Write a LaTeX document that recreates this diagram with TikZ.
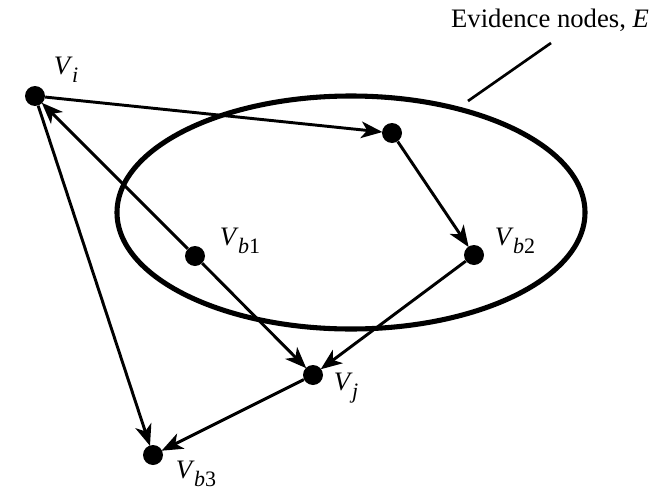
\documentclass[tikz,border=0pt]{standalone}
\usepackage{fontspec}
\setmainfont{Liberation Serif}
\usetikzlibrary{arrows.meta}
\newcommand\vlab[1]{\textit{V}\kern-0.5pt\raisebox{-0.28em}{\fontsize{16.5}{16.5}\selectfont #1}}
\tikzset{
  dot/.style={circle,fill=black,draw=none,inner sep=0pt,minimum size=15pt},
  arr/.style={line width=2.2pt,-{Stealth[length=16pt,width=12.5pt,inset=4.5pt]},shorten >=-0.5pt},
  lab/.style={font=\fontsize{20}{24}\selectfont,inner sep=0pt},
  ev/.style={line width=3.8pt},
}
\begin{document}
\begin{tikzpicture}[x=0.75pt,y=-0.75pt]
\useasboundingbox (0,0) rectangle (672,493);
\draw[ev] (351,212.5) ellipse [x radius=234, y radius=116.5];
\node[dot] (vi) at (35,96) {};
\node[dot] (va) at (392,133) {};
\node[dot] (vb1) at (195,256) {};
\node[dot] (vb2) at (474,255) {};
\node[dot] (vj) at (313,375) {};
\node[dot] (vb3) at (153,455) {};
\node[lab] (li) at (66,70) {\vlab{\textit{i}}};
\node[lab] (lb1) at (240,241) {\vlab{\textit{b}1}};
\node[lab] (lb2) at (515,241) {\vlab{\textit{b}2}};
\node[lab] (lj) at (346,388) {\vlab{\textit{j}}};
\node[lab] (lb3) at (196,474) {\vlab{\textit{b}3}};
\node[lab] (le) at (550,20) {Evidence nodes, \textit{E}};
\coordinate (e1) at (468,101);
\coordinate (e2) at (551,43);
\draw[line width=2pt] (e1) -- (e2);
\draw[arr] (vi) -- (va);
\draw[arr] (va) -- (vb2);
\draw[arr] (vb1) -- (vi);
\draw[arr] (vb1) -- (vj);
\draw[arr] (vb2) -- (vj);
\draw[arr] (vi) -- (vb3);
\draw[arr] (vj) -- (vb3);
\end{tikzpicture}
\end{document}
